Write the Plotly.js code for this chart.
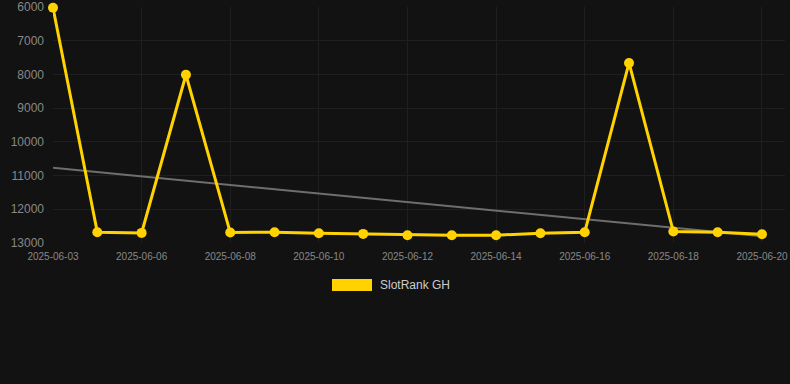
<!DOCTYPE html>
<html>
<head>
<meta charset="utf-8">
<script src="https://cdn.plot.ly/plotly-3.0.1.min.js"></script>
<style>
html,body{margin:0;padding:0;background:#121212;}
#chart{width:790px;height:384px;}
</style>
</head>
<body>
<div id="chart"></div>
<script>
const dates = ["2025-06-03","2025-06-05","2025-06-06","2025-06-07","2025-06-08","2025-06-09","2025-06-10","2025-06-11","2025-06-12","2025-06-13","2025-06-14","2025-06-15","2025-06-16","2025-06-17","2025-06-18","2025-06-19","2025-06-20"];
const ranks = [6020,12680,12700,8010,12690,12680,12710,12730,12770,12770,12770,12710,12680,7660,12660,12680,12740];
const trendDates = ["2025-06-03","2025-06-20"];
const trendValues = [10770,12800];
const tickLabels = ["2025-06-03","2025-06-06","2025-06-08","2025-06-10","2025-06-12","2025-06-14","2025-06-16","2025-06-18","2025-06-20"];
const yTicks = [6000,7000,8000,9000,10000,11000,12000,13000];
const seriesName = "SlotRank GH";

const gold = "#FFD200";
const traces = [
  {x: trendDates, y: trendValues, type: "scatter", mode: "lines", line: {color: "#6e6e6e", width: 2}, hoverinfo: "skip", showlegend: false},
  {x: dates, y: ranks, type: "scatter", mode: "lines+markers", name: seriesName,
   line: {color: gold, width: 3}, marker: {color: gold, size: 10}, cliponaxis: false, showlegend: false}
];

const layout = {
  width: 790, height: 384,
  paper_bgcolor: "#121212", plot_bgcolor: "#121212",
  margin: {l: 53, r: 5, t: 7, b: 141},
  font: {family: "Liberation Sans, Arial, sans-serif", color: "#888"},
  showlegend: false,
  xaxis: {
    type: "category", range: [0, 16.52], categoryorder: "array", categoryarray: dates,
    tickmode: "array", tickvals: tickLabels, ticktext: tickLabels,
    showgrid: true, gridcolor: "#1f1f1f", gridwidth: 1,
    zeroline: false, showline: false, ticks: "",
    tickfont: {size: 10, color: "#888"}, ticklabelstandoff: 6
  },
  yaxis: {
    range: [13000, 6000], tickmode: "array", tickvals: yTicks, ticktext: yTicks.map(String),
    showgrid: true, gridcolor: "#1f1f1f", gridwidth: 1,
    zeroline: false, showline: false, ticks: "",
    tickfont: {size: 12, color: "#888"}, ticklabelstandoff: 8
  },
  shapes: [
    {type: "rect", xref: "paper", yref: "paper", x0: (332-53)/732, x1: (372-53)/732,
     y0: (243-291)/236, y1: (243-279)/236, fillcolor: gold, line: {width: 0}}
  ],
  annotations: [
    {text: seriesName, xref: "paper", yref: "paper", x: (378-53)/732, y: (243-285)/236,
     xanchor: "left", yanchor: "middle", showarrow: false, font: {size: 12, color: "#ccc"}}
  ]
};

Plotly.newPlot("chart", traces, layout, {displayModeBar: false, staticPlot: true});
</script>
</body>
</html>
